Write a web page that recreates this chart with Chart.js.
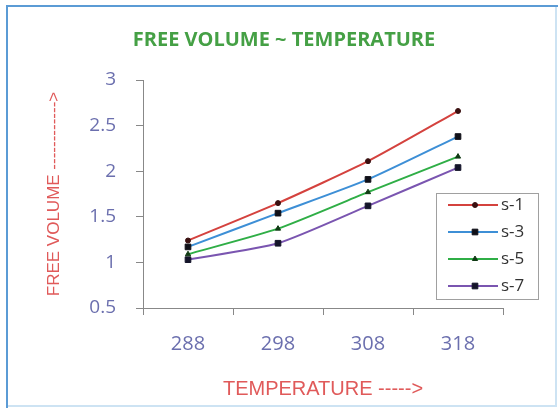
<!DOCTYPE html>
<html lang="en">
<head>
    <meta charset="UTF-8">
    <title>Free Volume ~ Temperature</title>
    <script src="https://cdn.jsdelivr.net/npm/chart.js"></script>
    <style>
        html, body { margin: 0; padding: 0; background: #fff; }
        #wrap { width: 558px; height: 408px; position: relative; }
    </style>
</head>
<body>
    <div id="wrap">
        <canvas id="myChart" width="558" height="408"></canvas>
    </div>

    <script>
        // data
        const temperatures = ['288', '298', '308', '318'];
        const s1 = [1.24, 1.65, 2.11, 2.66];
        const s3 = [1.17, 1.54, 1.91, 2.38];
        const s5 = [1.09, 1.37, 1.77, 2.16];
        const s7 = [1.03, 1.21, 1.62, 2.04];
        const yTicks = [0.5, 1, 1.5, 2, 2.5, 3];

        // frame round the whole chart
        const framePlugin = {
            id: 'frame',
            beforeDraw(chart) {
                const ctx = chart.ctx;
                ctx.save();
                ctx.fillStyle = '#fff';
                ctx.fillRect(0, 0, chart.width, chart.height);
                ctx.strokeStyle = '#cde3f3';
                ctx.lineWidth = 2;
                ctx.beginPath();
                ctx.moveTo(556, 6);
                ctx.lineTo(556, 406);
                ctx.lineTo(7, 406);
                ctx.stroke();
                ctx.strokeStyle = '#5b9bd5';
                ctx.beginPath();
                ctx.moveTo(7, 408);
                ctx.lineTo(7, 6);
                ctx.lineTo(558, 6);
                ctx.stroke();
                ctx.restore();
            }
        };

        // legend box drawn inside the plot, like the original
        const boxLegend = {
            id: 'boxLegend',
            afterDraw(chart) {
                const ctx = chart.ctx;
                const x = 436, y = 193, w = 102, h = 106;
                ctx.save();
                ctx.fillStyle = '#fff';
                ctx.fillRect(x, y, w, h);
                ctx.strokeStyle = '#a0a0a0';
                ctx.lineWidth = 1;
                ctx.strokeRect(x + 0.5, y + 0.5, w, h);
                chart.data.datasets.forEach(function (ds, i) {
                    const cy = y + 12 + i * 27;
                    ctx.strokeStyle = ds.borderColor;
                    ctx.lineWidth = 2;
                    ctx.beginPath();
                    ctx.moveTo(448, cy);
                    ctx.lineTo(498, cy);
                    ctx.stroke();
                    ctx.fillStyle = ds.pointBackgroundColor;
                    ctx.strokeStyle = ds.pointBorderColor;
                    ctx.lineWidth = 1;
                    Chart.helpers.drawPoint(ctx, {
                        pointStyle: ds.pointStyle,
                        radius: ds.pointRadius,
                        rotation: 0,
                        borderWidth: 1
                    }, 475, cy);
                    ctx.fillStyle = '#333';
                    ctx.font = '17px "Open Sans"';
                    ctx.textBaseline = 'middle';
                    ctx.textAlign = 'left';
                    ctx.fillText(ds.label, 501, cy);
                });
                ctx.restore();
            }
        };

        const ctx = document.getElementById('myChart').getContext('2d');
        new Chart(ctx, {
            type: 'line',
            data: {
                labels: temperatures,
                datasets: [
                    { label: 's-1', data: s1, borderColor: '#d4423e', pointStyle: 'circle', pointRadius: 2.5,
                      pointBackgroundColor: '#3a1010', pointBorderColor: '#3a1010' },
                    { label: 's-3', data: s3, borderColor: '#3d8fd6', pointStyle: 'rect', pointRadius: 4,
                      pointBackgroundColor: '#101018', pointBorderColor: '#101018' },
                    { label: 's-5', data: s5, borderColor: '#2fae46', pointStyle: 'triangle', pointRadius: 3,
                      pointBackgroundColor: '#103a14', pointBorderColor: '#103a14' },
                    { label: 's-7', data: s7, borderColor: '#7a55b0', pointStyle: 'rect', pointRadius: 4,
                      pointBackgroundColor: '#14142a', pointBorderColor: '#14142a' }
                ]
            },
            options: {
                responsive: false,
                animation: false,
                devicePixelRatio: 1,
                layout: { padding: { left: 10, right: 0, top: 0, bottom: 0 } },
                elements: {
                    line: { borderWidth: 2, tension: 0.2 },
                    point: { borderWidth: 1 }
                },
                plugins: {
                    legend: { display: false },
                    tooltip: { enabled: false },
                    title: {
                        display: true,
                        text: 'FREE VOLUME ~ TEMPERATURE',
                        color: '#45a045',
                        font: { family: '"Open Sans"', size: 20, weight: 'bold' },
                        padding: { top: 28, bottom: 28 }
                    }
                },
                scales: {
                    x: {
                        offset: true,
                        grid: { offset: true, drawOnChartArea: false, tickLength: 7, color: '#888' },
                        border: { color: '#888', width: 1 },
                        ticks: { color: '#6b6fae', padding: 17, font: { family: '"Open Sans"', size: 20 } },
                        title: {
                            display: true,
                            text: 'TEMPERATURE ----->',
                            color: '#e05a5a',
                            font: { family: '"Liberation Sans"', size: 20 },
                            padding: { top: 0, bottom: 7 }
                        },
                        afterFit(scale) { scale.height = 100; }
                    },
                    y: {
                        min: 0.5,
                        max: 3,
                        afterBuildTicks(scale) { scale.ticks = yTicks.map(function (v) { return { value: v }; }); },
                        grid: { drawOnChartArea: false, tickLength: 7, color: '#888' },
                        border: { color: '#888', width: 1 },
                        ticks: {
                            color: '#6b6fae', padding: 20, font: { family: '"Open Sans"', size: 19 },
                            callback: function (v) { return String(v); }
                        },
                        title: {
                            display: true,
                            text: 'FREE VOLUME ------------>',
                            color: '#e05a5a',
                            font: { family: '"Liberation Sans"', size: 17 },
                            padding: { top: 34, bottom: 0 }
                        },
                        afterFit(scale) { scale.width = 133; }
                    },
                    // empty right-hand axis that keeps the plot clear of the right edge
                    pad: {
                        type: 'linear',
                        position: 'right',
                        display: true,
                        grid: { display: false },
                        border: { display: false },
                        ticks: { display: false },
                        afterFit(scale) { scale.width = 55; }
                    }
                }
            },
            plugins: [framePlugin, boxLegend]
        });
    </script>
</body>
</html>
